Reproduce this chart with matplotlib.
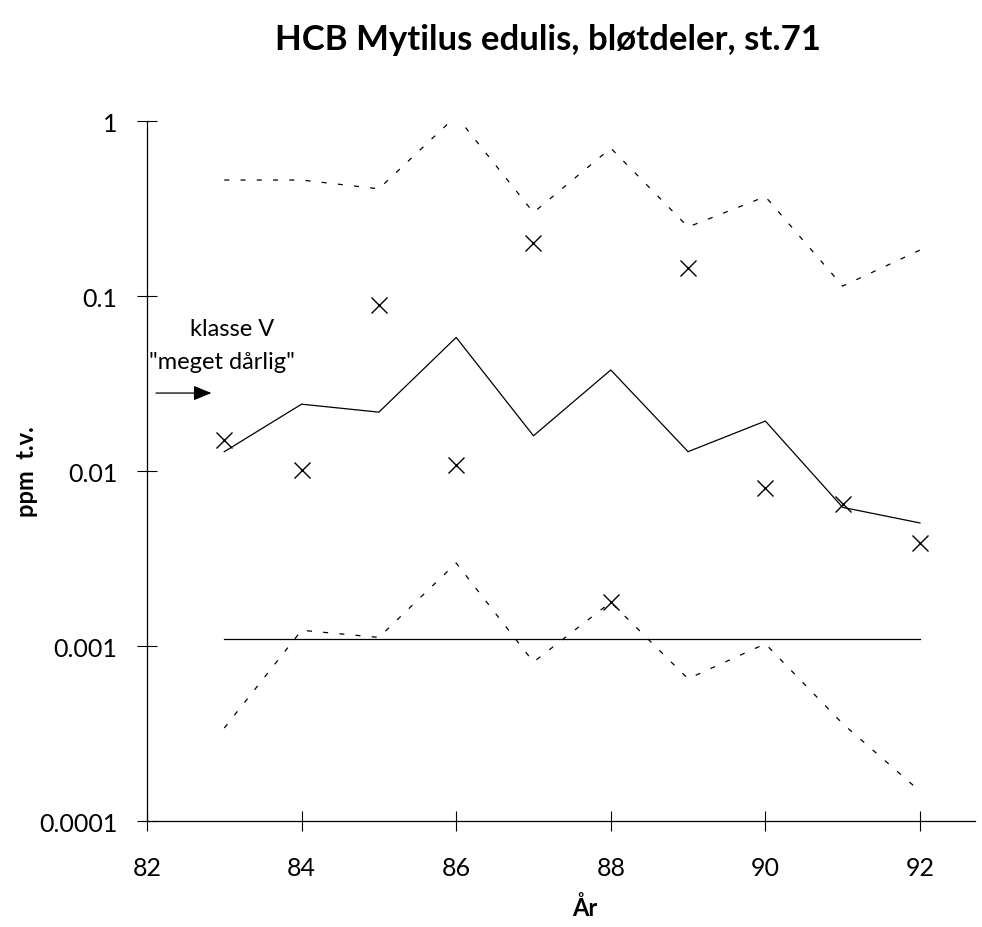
import numpy as np
import matplotlib
matplotlib.use("Agg")
import matplotlib.pyplot as plt

# Data (year, ppm t.v.)
years = [83, 84, 85, 86, 87, 88, 89, 90, 91, 92]
measured = [0.0150, 0.0101, 0.089, 0.0108, 0.201, 0.00178, 0.145, 0.0080, 0.0065, 0.0039]
trend = [0.0129, 0.0241, 0.0217, 0.058, 0.0159, 0.0378, 0.0129, 0.0193, 0.0062, 0.00505]
upper = [0.46, 0.46, 0.41, 1.07, 0.30, 0.70, 0.248, 0.37, 0.114, 0.183]
lower = [0.00034, 0.00123, 0.00112, 0.00298, 0.00081, 0.00178, 0.00065, 0.00103, 0.00036, 0.000148]
limit = [0.0011, 0.0011, 0.0011, 0.0011, 0.0011, 0.0011, 0.0011, 0.0011, 0.0011, 0.0011]

x_ticks = [82, 84, 86, 88, 90, 92]
y_ticks = [0.0001, 0.001, 0.01, 0.1, 1]
y_ticklabels = ["0.0001", "0.001", "0.01", "0.1", "1"]

plt.rcParams['font.family'] = ['Lato', 'DejaVu Sans']

fig = plt.figure(figsize=(9.82, 9.28), dpi=100)
ax = fig.add_axes([0.1497, 0.1142, 0.843, 0.7543])

# Dotted upper/lower bands
ax.plot(years, upper, color='black', lw=0.9, dashes=(4, 9))
ax.plot(years, lower, color='black', lw=0.9, dashes=(4, 9))
# Solid trend and horizontal line
ax.plot(years, trend, color='black', lw=0.9)
ax.plot(years, limit, color='black', lw=0.9)
# Measured values
ax.plot(years, measured, linestyle='none', marker='x', color='black',
        markersize=11, markeredgewidth=1.0)

ax.set_yscale('log')
ax.set_xlim(82, 92.71)
ax.set_ylim(1e-4, 1)
ax.set_xticks(x_ticks)
ax.set_xticklabels([str(t) for t in x_ticks], fontsize=18)
ax.set_yticks(y_ticks)
ax.set_yticklabels(y_ticklabels, fontsize=18)
ax.yaxis.set_minor_locator(matplotlib.ticker.NullLocator())
ax.tick_params(axis='both', direction='inout', length=15, width=0.8)
ax.tick_params(axis='y', pad=14)
ax.tick_params(axis='x', pad=18)

for side in ['top', 'right']:
    ax.spines[side].set_visible(False)
for side in ['left', 'bottom']:
    ax.spines[side].set_linewidth(0.9)

# Annotation
ax.text(83.1, 0.065, "klasse V", fontsize=17, ha='center', va='center')
ax.text(82.97, 0.0425, "\"meget dårlig\"", fontsize=17, ha='center', va='center')
ax.annotate("", xy=(82.87, 0.0279), xytext=(82.08, 0.0279),
            arrowprops=dict(arrowstyle='-|>,head_length=1.1,head_width=0.45',
                            color='black', lw=0.9))

# Titles
fig.text(0.558, 0.957, "HCB Mytilus edulis, bløtdeler, st.71", fontsize=25,
         fontweight='bold', ha='center', va='center')
ax.set_xlabel("År", fontsize=17, fontweight='bold')
ax.xaxis.set_label_coords(0.529, -0.105)
ax.set_ylabel("ppm  t.v.", fontsize=17, fontweight='bold')
ax.yaxis.set_label_coords(-0.132, 0.5)

fig.savefig("out.png", dpi=100)
